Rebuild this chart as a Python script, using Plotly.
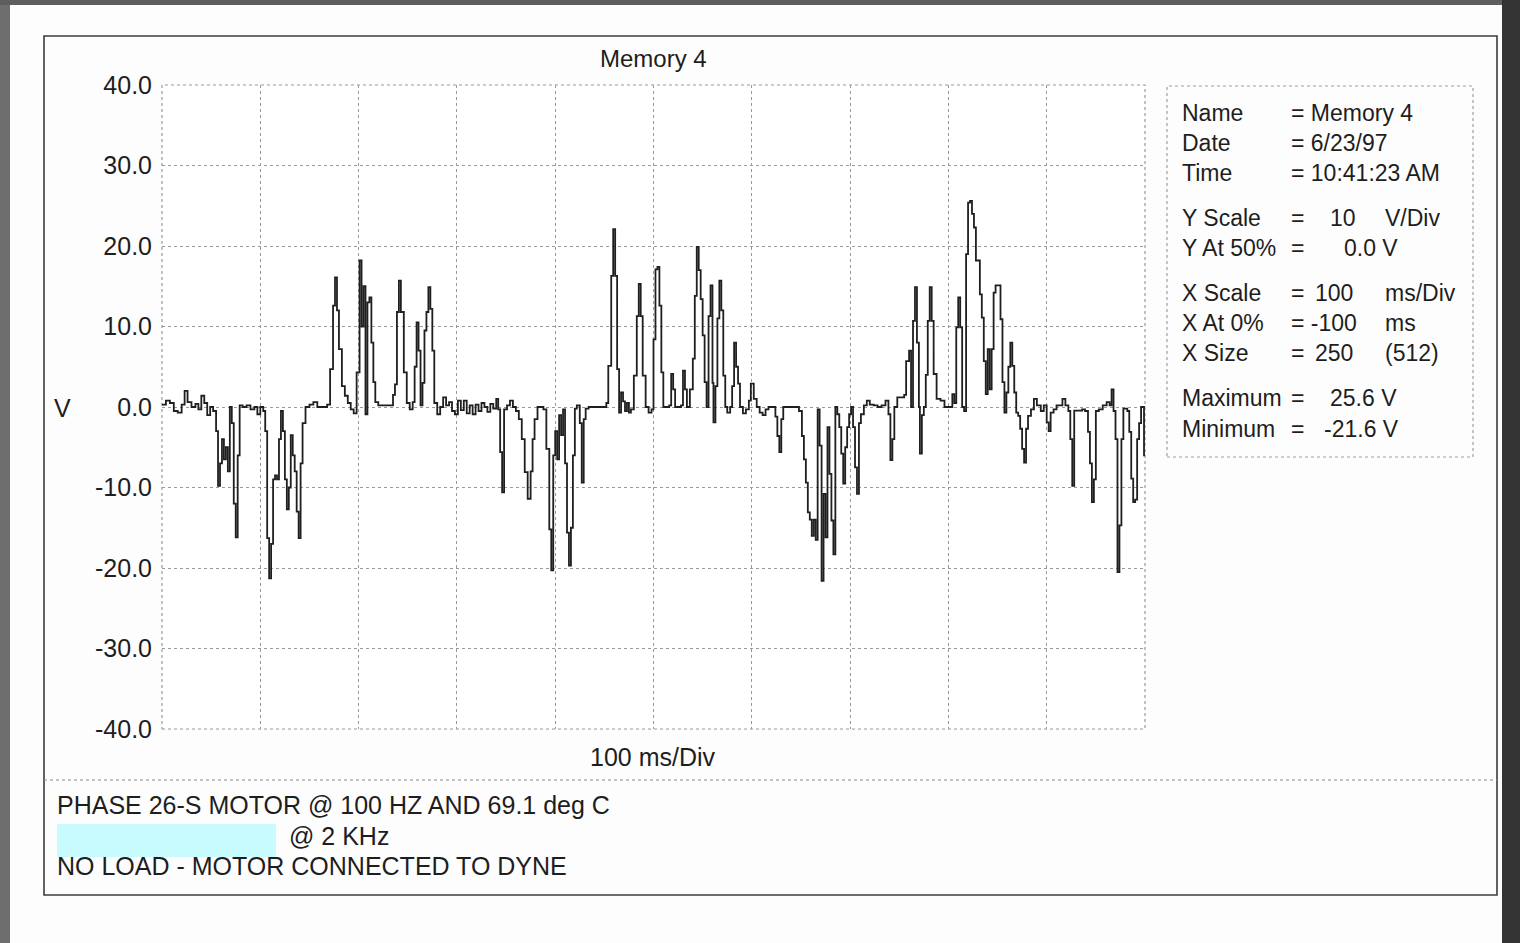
import plotly.graph_objects as go

# ---------------- data (time in ms, voltage in V) ----------------
time_ms = [
    -100, -96, -92, -88, -84, -80, -77, -74, -70, -66, -63, -60, -57, -54, -51, -48, -45, -43, -41, -39,
    -37, -35, -33, -31, -29, -27, -25, -23, -21, -18, -14, -10, -6, -3, 0, 3, 5, 7, 9, 11,
    13, 15, 17, 19, 21, 23, 25, 27, 29, 31, 33, 35, 37, 39, 41, 43, 46, 50, 54, 58,
    62, 68, 71, 74, 76, 78, 80, 83, 86, 89, 92, 95, 98, 101, 103, 105, 107, 109, 111, 113,
    115, 117, 120, 124, 128, 132, 135, 137, 139, 141, 143, 146, 149, 152, 155, 157, 159, 161, 163, 165,
    167, 169, 171, 173, 175, 177, 180, 183, 186, 189, 192, 195, 198, 201, 204, 207, 210, 213, 216, 219,
    222, 225, 228, 231, 234, 237, 240, 242, 244, 246, 248, 251, 254, 257, 260, 263, 266, 269, 272, 275,
    277, 279, 282, 285, 288, 291, 294, 296, 298, 300, 302, 304, 306, 308, 310, 312, 314, 316, 318, 320,
    322, 325, 327, 329, 331, 334, 338, 342, 346, 350, 352, 354, 357, 359, 361, 363, 365, 367, 369, 371,
    373, 375, 377, 380, 383, 385, 387, 389, 392, 395, 398, 400, 402, 404, 406, 408, 410, 413, 416, 418,
    420, 422, 425, 428, 430, 432, 434, 437, 440, 442, 444, 446, 448, 450, 452, 454, 456, 458, 460, 461,
    463, 465, 467, 469, 471, 473, 475, 478, 480, 482, 484, 486, 488, 491, 494, 497, 499, 502, 505, 508,
    511, 514, 517, 521, 524, 526, 528, 530, 532, 536, 540, 544, 548, 551, 553, 555, 557, 559, 561, 563,
    565, 567, 569, 571, 573, 575, 577, 579, 581, 583, 585, 587, 589, 591, 593, 595, 597, 599, 601, 603,
    605, 607, 609, 611, 614, 617, 620, 624, 628, 632, 636, 639, 641, 643, 645, 648, 652, 655, 657, 660,
    662, 664, 666, 668, 670, 671, 673, 675, 677, 679, 681, 683, 685, 688, 692, 696, 700, 704, 706, 708,
    710, 712, 714, 716, 718, 720, 722, 724, 726, 728, 730, 732, 734, 736, 738, 740, 742, 744, 746, 748,
    751, 753, 755, 757, 759, 761, 763, 765, 767, 769, 771, 773, 775, 777, 779, 781, 784, 787, 790, 794,
    797, 800, 802, 804, 807, 810, 813, 816, 819, 822, 824, 826, 828, 832, 836, 839, 842, 844, 846, 848,
    850, 853, 857, 861, 864, 866, 868, 870, 872, 874, 876, 878, 882, 884, 886, 888, 890, 892, 894, 896,
    899, 900,
]
voltage = [
    0.3, 0.8, 0.5, -0.5, -0.7, 0.3, 2.0, 0.6, 0.0, 0.4, -0.3, 1.4, 0.5, -1.0, 0.0, -0.5, -3.0, -9.8, -7.0, -4.0,
    -6.5, -5.0, -8.0, 0.0, -2.0, -12.0, -16.2, -6.0, 0.2, 0.0, 0.2, -0.3, 0.0, -0.9, 0.0, -0.5, -3.0, -16.3, -21.3, -17.0,
    -9.0, -8.5, -9.0, -4.0, -0.5, -3.0, -9.0, -12.7, -10.0, -3.5, -6.0, -8.0, -13.0, -16.3, -7.0, -2.0, 0.0, 0.3, 0.6, 0.0,
    0.0, 0.3, 4.7, 12.6, 16.1, 12.0, 7.2, 2.6, 1.4, 0.5, -0.3, -0.8, 4.3, 18.2, 10.0, 15.0, -0.9, 13.0, 13.6, 8.0,
    3.1, 0.6, 0.2, 0.2, 0.2, 0.2, 1.5, 2.8, 11.8, 15.7, 11.8, 4.3, 0.5, -0.3, 0.6, 5.0, 10.5, 7.0, 0.2, 3.0,
    9.5, 11.8, 14.9, 12.2, 7.0, 0.5, -0.9, 0.0, 1.2, 0.2, 0.6, -0.5, -0.9, 0.8, -0.4, 0.8, -0.8, 0.2, -0.9, 0.3,
    -0.5, 0.5, 0.0, -0.6, 0.4, -0.2, 1.0, -0.3, -5.6, -10.6, -0.3, 0.2, 0.8, 0.0, -0.5, -1.5, -4.0, -8.1, -11.4, -8.0,
    -4.0, -1.5, 0.0, 0.0, -0.3, -5.2, -15.2, -20.3, -6.0, -3.0, -6.5, -1.0, -3.5, -0.3, -7.0, -15.6, -19.7, -15.0, -6.0, -0.2,
    0.2, -2.0, -9.4, -1.5, -0.2, 0.0, 0.0, 0.0, 0.0, 0.0, 0.5, 5.1, 16.3, 22.1, 16.3, 4.7, -0.7, 1.8, 0.7, -0.5,
    0.5, -0.7, -0.3, 3.9, 11.3, 15.3, 11.3, 3.9, 0.0, -0.7, -0.3, 8.4, 17.1, 17.4, 12.6, 4.3, 0.0, 0.0, 0.2, 4.1,
    2.2, 0.0, 0.0, 0.2, 4.5, 2.2, 0.0, 2.2, 6.0, 13.8, 19.9, 17.0, 13.4, 8.9, 3.1, 0.0, 11.3, 15.1, 3.0, -1.9,
    2.6, 11.0, 15.7, 12.0, 3.9, 0.0, -0.7, 0.0, 2.6, 8.0, 5.0, 2.9, 0.0, -0.8, -0.3, 0.8, 2.9, 1.0, 0.0, -0.7,
    -1.0, -0.3, 0.0, 0.0, -1.2, -3.6, -5.6, -1.5, 0.0, 0.0, 0.0, 0.0, -0.5, -3.6, -6.5, -9.4, -13.1, -14.0, -16.0, -14.0,
    -16.5, -0.3, -4.8, -21.6, -10.8, -16.2, -2.5, -8.3, -14.1, -18.3, 0.0, -0.9, -2.5, -5.8, -9.5, -5.0, -2.5, -0.9, 0.0, -2.5,
    -7.5, -10.8, -2.0, -0.9, 0.2, 0.8, 0.3, 0.2, 0.0, 0.2, 0.8, -0.9, -6.6, -4.0, 0.0, 1.2, 1.2, 1.5, 5.7, 7.0,
    0.0, 10.7, 14.9, 8.0, 0.0, -5.8, -1.0, 0.0, 4.0, 10.7, 14.9, 10.7, 4.1, 1.0, 0.8, 0.0, 0.0, 1.6, 0.5, 9.9,
    13.6, 9.9, 0.0, -0.5, 19.0, 25.4, 25.6, 24.0, 22.3, 18.2, 18.2, 14.0, 11.1, 5.7, 1.6, 7.2, 2.2, 7.2, 14.2, 15.1,
    15.1, 10.9, 3.1, -0.7, 1.8, 5.0, 8.0, 5.1, 1.8, -0.7, -1.1, -2.7, -5.2, -6.9, -2.7, -1.1, -0.3, 1.0, 0.2, -0.5,
    0.2, -1.9, -3.0, -0.7, -0.3, 0.2, 0.2, 1.0, 0.2, -0.5, -4.0, -9.8, -0.45, -0.45, -0.3, -0.5, -3.1, -7.0, -11.8, -9.0,
    -0.5, -0.3, 0.2, 0.6, 0.2, 2.2, -0.5, -4.0, -20.5, -14.7, -4.0, -0.2, -0.5, -3.1, -8.9, -11.8, -11.5, -4.0, -2.0, 0.0,
    -6.0, -6.0,
]

y_ticks = [40, 30, 20, 10, 0, -10, -20, -30, -40]
y_tick_labels = ["40.0", "30.0", "20.0", "10.0", "0.0", "-10.0", "-20.0", "-30.0", "-40.0"]
x_ticks = [-100, 0, 100, 200, 300, 400, 500, 600, 700, 800, 900]

title_text = "Memory 4"
x_axis_text = "100 ms/Div"
y_axis_text = "V"
info_labels = ["Name", "Date", "Time", "Y Scale", "Y At 50%", "X Scale", "X At 0%", "X Size", "Maximum", "Minimum"]
info_eq = ["= Memory 4", "= 6/23/97", "= 10:41:23 AM", "=", "=", "=", "= -100", "=", "=", "="]
info_values = ["", "", "", "10", "0.0 V", "100", "", "250", "25.6 V", "-21.6 V"]
info_units = ["", "", "", "V/Div", "", "ms/Div", "ms", "(512)", "", ""]
notes = ["PHASE 26-S MOTOR @ 100 HZ AND 69.1 deg C", "@ 2 KHz", "NO LOAD - MOTOR CONNECTED TO DYNE"]

# ---------------- layout geometry (pixels) ----------------
W, H = 1520, 943
L, R, T, B = 162, 375, 85, 214
PW, PH = W - L - R, H - T - B


def fx(px):
    return (px - L) / PW


def fy(py):
    return (H - B - py) / PH


FONT = "Liberation Sans, Arial, sans-serif"
INK = "#1e1e1e"

fig = go.Figure()
fig.add_trace(go.Scatter(
    x=time_ms, y=voltage, mode="lines", line=dict(color="#1f1f1f", width=1.8, shape="hv"),
    hoverinfo="skip", showlegend=False,
))

shapes = []
# scanner edges
shapes.append(dict(type="rect", xref="paper", yref="paper", x0=fx(0), x1=fx(10), y0=fy(H), y1=fy(0),
                   fillcolor="#6e6e6e", line=dict(width=0), layer="below"))
shapes.append(dict(type="rect", xref="paper", yref="paper", x0=fx(0), x1=fx(W), y0=fy(5), y1=fy(0),
                   fillcolor="#5e5e5e", line=dict(width=0), layer="below"))
shapes.append(dict(type="rect", xref="paper", yref="paper", x0=fx(1502), x1=fx(W), y0=fy(H), y1=fy(0),
                   fillcolor="#333333", line=dict(width=0), layer="below"))
# outer frame
shapes.append(dict(type="rect", xref="paper", yref="paper", x0=fx(44), x1=fx(1497), y0=fy(895), y1=fy(36),
                   line=dict(color="#3c3c3c", width=1.6), layer="below"))
# divider
shapes.append(dict(type="line", xref="paper", yref="paper", x0=fx(44), x1=fx(1497), y0=fy(780), y1=fy(780),
                   line=dict(color="#8a8a8a", width=1.2, dash="dot"), layer="below"))
# plot frame
shapes.append(dict(type="rect", xref="paper", yref="paper", x0=0, x1=1, y0=0, y1=1,
                   line=dict(color="#9a9a9a", width=1.2, dash="dot"), layer="below"))
# info box
shapes.append(dict(type="rect", xref="paper", yref="paper", x0=fx(1167), x1=fx(1473), y0=fy(457), y1=fy(86),
                   line=dict(color="#a0a0a0", width=1.2, dash="dot"), layer="below"))
# redaction box
shapes.append(dict(type="rect", xref="paper", yref="paper", x0=fx(57), x1=fx(276), y0=fy(857), y1=fy(824),
                   fillcolor="#c8fbfd", line=dict(width=0), layer="above"))

ann = []


def text(px, py, s, size=24, anchor="left"):
    ann.append(dict(xref="paper", yref="paper", x=fx(px), y=fy(py), text=s, showarrow=False,
                    xanchor=anchor, yanchor="middle", font=dict(family=FONT, size=size, color=INK)))


text(653, 59, title_text, 24, "center")
text(653, 757, x_axis_text, 25, "center")
text(62, 408, y_axis_text, 25, "center")

info_y = [113, 143, 173, 218, 248, 293, 323, 353, 398, 429]
value_x = [None, None, None, 1328, 1342, 1313, None, 1313, 1328, 1322]
for i, lab in enumerate(info_labels):
    text(1180, info_y[i], lab, 23)
    text(1289, info_y[i], info_eq[i], 23)
    if info_values[i]:
        text(value_x[i], info_y[i], info_values[i], 23)
    if info_units[i]:
        text(1383, info_y[i], info_units[i], 23)

text(55, 805, notes[0], 25)
text(287, 836, notes[1], 25)
text(55, 866, notes[2], 25)

fig.update_layout(
    width=W, height=H, autosize=False,
    margin=dict(l=L, r=R, t=T, b=B, pad=0),
    paper_bgcolor="#fdfdfd", plot_bgcolor="#ffffff",
    shapes=shapes, annotations=ann, showlegend=False,
    font=dict(family=FONT, color=INK),
)
fig.update_xaxes(range=[-100, 900], tickvals=x_ticks, showticklabels=False, ticks="",
                 showgrid=True, gridcolor="#9a9a9a", griddash="dot", gridwidth=1.2,
                 zeroline=False, showline=False, fixedrange=True)
fig.update_yaxes(range=[-40, 40], tickvals=y_ticks, ticktext=y_tick_labels, ticks="",
                 ticklabelstandoff=9, tickfont=dict(family=FONT, size=25, color=INK),
                 showgrid=True, gridcolor="#9a9a9a", griddash="dot", gridwidth=1.2,
                 zeroline=False, showline=False, fixedrange=True)

fig.write_html("out.html")
